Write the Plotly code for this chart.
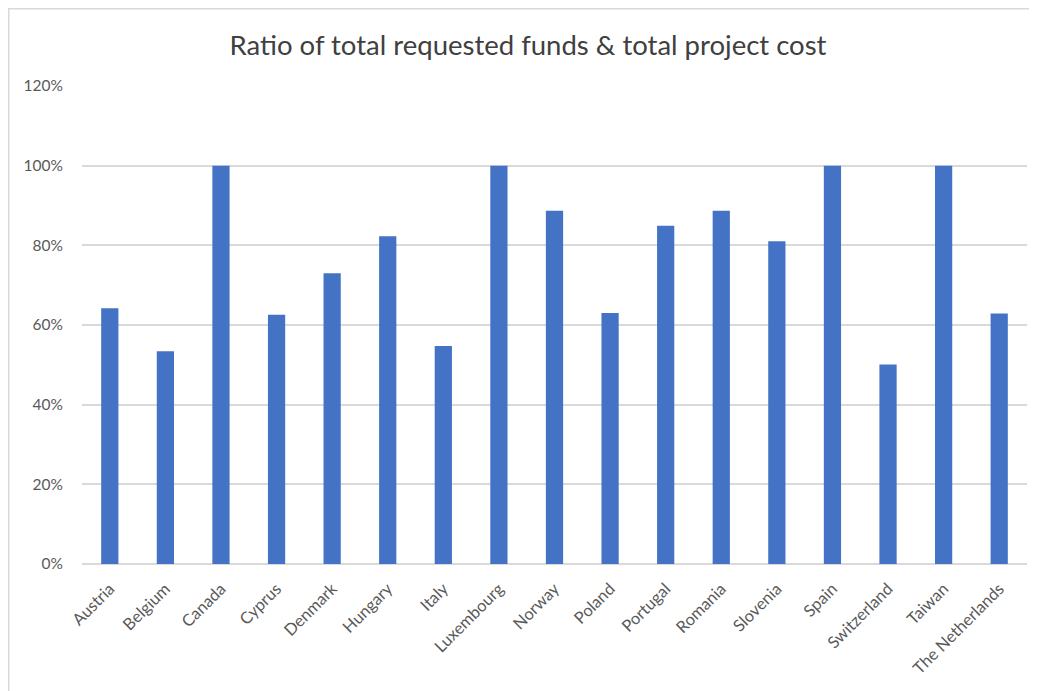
import plotly.graph_objects as go

countries = ["Austria", "Belgium", "Canada", "Cyprus", "Denmark", "Hungary", "Italy",
             "Luxembourg", "Norway", "Poland", "Portugal", "Romania", "Slovenia",
             "Spain", "Switzerland", "Taiwan", "The Netherlands"]
ratios = [64.2, 53.4, 100, 62.6, 73.0, 82.3, 54.7, 100, 88.7, 63.0, 84.9, 88.7, 81.0,
          100, 50.1, 100, 62.9]
tick_vals = [0, 20, 40, 60, 80, 100, 120]
tick_text = ["0%", "20%", "40%", "60%", "80%", "100%", "120%"]

# page body has an 8px default margin, so the figure is sized to fit the window
W, H = 1029, 683
L, R, T, B = 74, 10, 78, 127

fig = go.Figure(go.Bar(x=countries, y=ratios, marker_color="#4472C4",
                       marker_line_width=0))

pw = W - L - R
ph = H - T - B
def px_x(p):
    return (p - L) / pw
def px_y(p):
    return (H - B - p) / ph

fig.update_layout(
    width=W, height=H,
    margin=dict(l=L, r=R, t=T, b=B, autoexpand=False),
    paper_bgcolor="white", plot_bgcolor="white",
    bargap=0.69,
    font=dict(family="Lato, Open Sans, sans-serif", color="#595959", size=15),
    title=dict(text="Ratio of total requested funds & total project cost",
               x=520 / W, xref="container", xanchor="center", y=1 - 37 / H,
               yref="container", yanchor="middle",
               font=dict(size=27.5, color="#404040")),
    showlegend=False,
    xaxis=dict(tickangle=-45, showgrid=False, showline=False, ticks="",
               ticklabelstandoff=11,
               tickfont=dict(size=16.5, color="#595959")),
    yaxis=dict(range=[0, 120], tickvals=tick_vals, ticktext=tick_text,
               showgrid=True, gridcolor="#D9D9D9", gridwidth=1.5,
               zeroline=True, zerolinecolor="#D9D9D9", zerolinewidth=1.5,
               showline=False, ticks="", ticklabelstandoff=18,
               tickfont=dict(size=15.5, color="#595959")),
    shapes=[dict(type="rect", xref="paper", yref="paper",
                 x0=px_x(0.75), x1=px_x(1060), y0=px_y(720), y1=px_y(0.75),
                 line=dict(color="#D9D9D9", width=1.5), fillcolor="rgba(0,0,0,0)",
                 layer="below")],
)

fig.write_html("out.html")
